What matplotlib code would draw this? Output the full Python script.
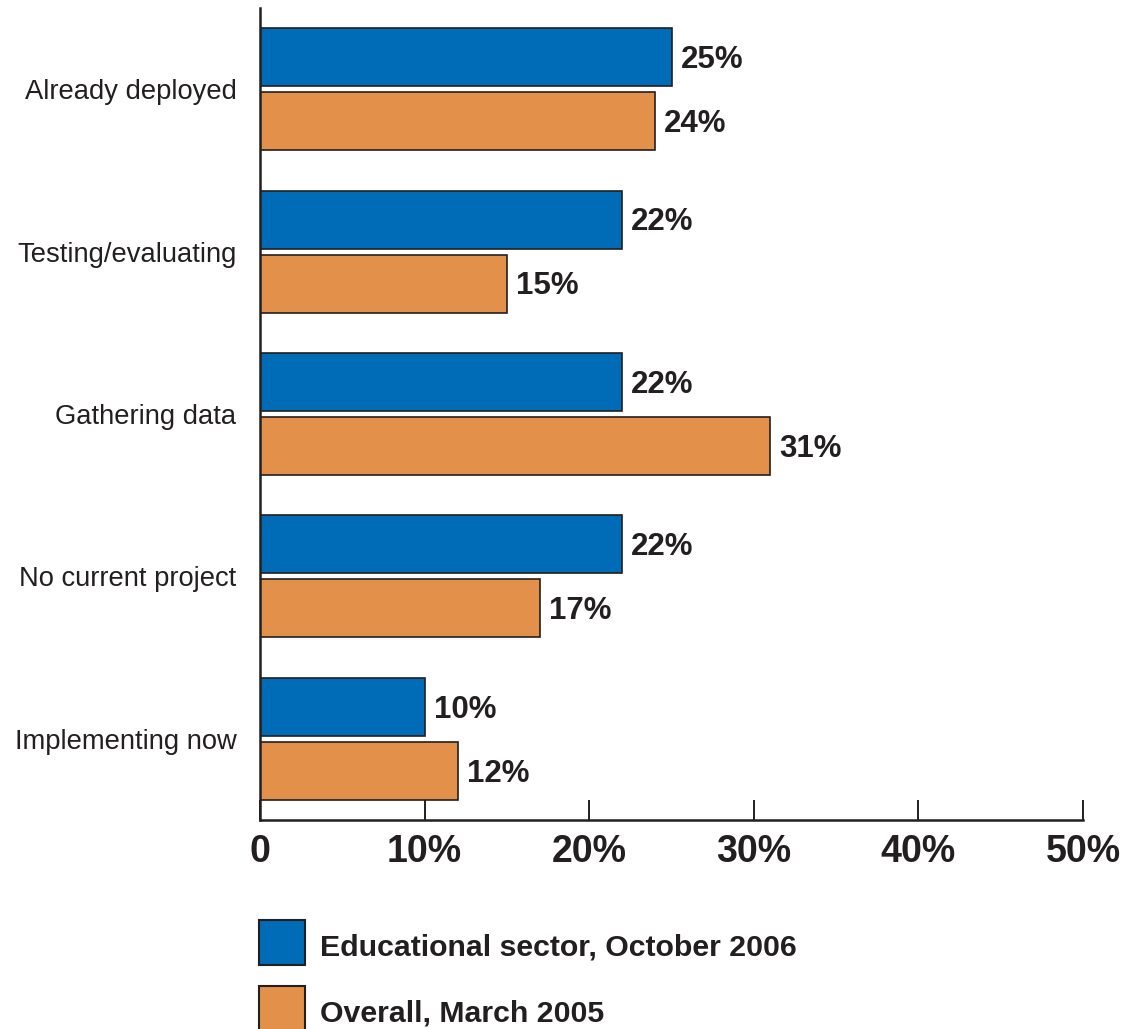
import matplotlib.pyplot as plt
from matplotlib.patches import Rectangle
import numpy as np

plt.rcParams['font.family'] = ['Liberation Sans', 'DejaVu Sans']

categories = ["Already deployed", "Testing/evaluating", "Gathering data",
              "No current project", "Implementing now"]
edu_2006 = [25, 22, 22, 22, 10]
overall_2005 = [24, 15, 31, 17, 12]
series_labels = ["Educational sector, October 2006", "Overall, March 2005"]
xticks = [0, 10, 20, 30, 40, 50]
xtick_labels = ["0", "10%", "20%", "30%", "40%", "50%"]

blue = "#006bb6"
orange = "#e3904a"
ink = "#231f20"

W, H = 1139, 1029
fig = plt.figure(figsize=(W / 100, H / 100), dpi=100)
ax = fig.add_axes([260 / W, 1 - 820 / H, 823 / W, 812 / H])

y = np.arange(len(categories))
off = 0.197
h = 0.357
b1 = ax.barh(y - off, edu_2006, height=h, color=blue, edgecolor=ink,
             linewidth=1.2, label=series_labels[0])
b2 = ax.barh(y + off, overall_2005, height=h, color=orange, edgecolor=ink,
             linewidth=1.2, label=series_labels[1])

for bars, vals in ((b1, edu_2006), (b2, overall_2005)):
    for rect, v in zip(bars, vals):
        ax.annotate(f"{v}%", (v, rect.get_y() + rect.get_height() / 2),
                    xytext=(6.5, -2), textcoords="offset points",
                    ha="left", va="center", fontsize=22.5,
                    fontweight="bold", color=ink)

ax.set_xlim(0, 50)
ax.set_ylim(len(categories) - 0.5, -0.5)
ax.set_yticks(y)
ax.set_yticklabels(categories, fontsize=19.7, color=ink)
ax.set_xticks(xticks)
ax.set_xticklabels(xtick_labels, fontsize=27, fontweight="bold", color=ink)
ax.tick_params(axis="y", length=0, pad=17)
ax.tick_params(axis="x", direction="in", length=14.4, width=1.4,
               color=ink, pad=10)

for side in ("top", "right"):
    ax.spines[side].set_visible(False)
for side in ("left", "bottom"):
    ax.spines[side].set_linewidth(1.8)
    ax.spines[side].set_color(ink)

# legend drawn as swatches with labels below the plot
for i, (lab, col) in enumerate(zip(series_labels, (blue, orange))):
    top = 920 + i * 66
    fig.add_artist(Rectangle((259 / W, 1 - (top + 45) / H), 46 / W, 45 / H,
                             transform=fig.transFigure, facecolor=col,
                             edgecolor=ink, linewidth=1.5))
    fig.text(320 / W, 1 - (top + 35) / H, lab, fontsize=21.8,
             fontweight="bold", color=ink, ha="left", va="baseline")

fig.savefig("out.png", dpi=100)
